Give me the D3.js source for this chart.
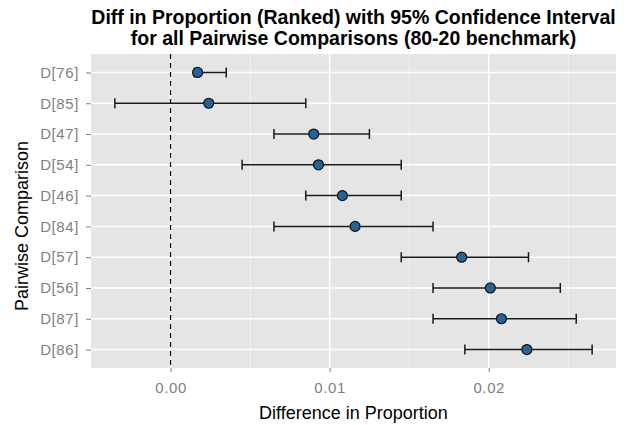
<!DOCTYPE html>
<html>
<head>
<meta charset="utf-8">
<script src="https://cdn.jsdelivr.net/npm/d3@7"></script>
<style>
  body { margin: 0; background: #fff; overflow: hidden; }
  text { font-family: "Liberation Sans", Arial, sans-serif; }
</style>
</head>
<body>
<script>
// comparisons, top to bottom
var labels = ['D[76]', 'D[85]', 'D[47]', 'D[54]', 'D[46]', 'D[84]', 'D[57]', 'D[56]', 'D[87]', 'D[86]'];
var diffs  = [0.0017, 0.0024, 0.0090, 0.0093, 0.0108, 0.0116, 0.0183, 0.0201, 0.0208, 0.0224];
var lower  = [0.0015, -0.0035, 0.0065, 0.0045, 0.0085, 0.0065, 0.0145, 0.0165, 0.0165, 0.0185];
var upper  = [0.0035, 0.0085, 0.0125, 0.0145, 0.0145, 0.0165, 0.0225, 0.0245, 0.0255, 0.0265];
var xTicks = [0, 0.01, 0.02];
var xMinor = [-0.005, 0.005, 0.015, 0.025];

var W = 631, H = 425;
var pLeft = 91, pRight = 616, pTop = 54, pBottom = 368;

var svg = d3.select('body').append('svg')
    .attr('width', W)
    .attr('height', H)
    .style('display', 'block');

var lo = d3.min(lower), hi = d3.max(upper), pad = (hi - lo) * 0.05;
var x = d3.scaleLinear()
    .domain([lo - pad, hi + pad])
    .range([pLeft, pRight]);

var y = d3.scalePoint()
    .domain(labels)
    .range([pTop, pBottom])
    .padding(0.6);

// panel
svg.append('rect')
    .attr('x', pLeft).attr('y', pTop)
    .attr('width', pRight - pLeft).attr('height', pBottom - pTop)
    .attr('fill', '#e5e5e5');

var grid = svg.append('g');
grid.selectAll('.minor').data(xMinor.filter(function (d) { return x(d) > pLeft + 1; }))
    .enter().append('line')
    .attr('x1', function (d) { return x(d); }).attr('x2', function (d) { return x(d); })
    .attr('y1', pTop).attr('y2', pBottom)
    .attr('stroke', '#f2f2f2').attr('stroke-width', 1);
grid.selectAll('.majx').data(xTicks)
    .enter().append('line')
    .attr('x1', function (d) { return x(d); }).attr('x2', function (d) { return x(d); })
    .attr('y1', pTop).attr('y2', pBottom)
    .attr('stroke', '#fff').attr('stroke-width', 1.5);
grid.selectAll('.majy').data(labels)
    .enter().append('line')
    .attr('x1', pLeft).attr('x2', pRight)
    .attr('y1', function (d) { return y(d); }).attr('y2', function (d) { return y(d); })
    .attr('stroke', '#fff').attr('stroke-width', 1.5);

// reference line at zero
svg.append('line')
    .attr('x1', x(0)).attr('x2', x(0))
    .attr('y1', pTop).attr('y2', pBottom)
    .attr('stroke', '#000').attr('stroke-width', 1.2)
    .attr('stroke-dasharray', '5,4');

// axes
var xAxis = svg.append('g')
    .attr('transform', 'translate(0,' + pBottom + ')')
    .call(d3.axisBottom(x).tickValues(xTicks).tickFormat(d3.format('.2f')).tickSize(4).tickPadding(10));
var yAxis = svg.append('g')
    .attr('transform', 'translate(' + pLeft + ',0)')
    .call(d3.axisLeft(y).tickSize(5).tickPadding(7));
[xAxis, yAxis].forEach(function (a) {
    a.select('.domain').remove();
    a.selectAll('line').attr('stroke', '#7f7f7f');
    a.selectAll('text').attr('fill', '#7f7f7f').style('font-size', '15px')
        .style('letter-spacing', '0.6px')
        .style('font-family', '"Liberation Sans", Arial, sans-serif');
});

// error bars
var rows = labels.map(function (l, i) {
    return { label: l, diff: diffs[i], lo: lower[i], hi: upper[i] };
});
var g = svg.append('g');
g.selectAll('.bar').data(rows).enter().append('line')
    .attr('x1', function (d) { return x(d.lo); }).attr('x2', function (d) { return x(d.hi); })
    .attr('y1', function (d) { return y(d.label); }).attr('y2', function (d) { return y(d.label); })
    .attr('stroke', '#1a1a1a').attr('stroke-width', 1.5);
['lo', 'hi'].forEach(function (k) {
    g.selectAll('.cap' + k).data(rows).enter().append('line')
        .attr('x1', function (d) { return x(d[k]); }).attr('x2', function (d) { return x(d[k]); })
        .attr('y1', function (d) { return y(d.label) - 5; }).attr('y2', function (d) { return y(d.label) + 5; })
        .attr('stroke', '#1a1a1a').attr('stroke-width', 1.5);
});
g.selectAll('circle').data(rows).enter().append('circle')
    .attr('cx', function (d) { return x(d.diff); })
    .attr('cy', function (d) { return y(d.label); })
    .attr('r', 5)
    .attr('fill', '#24649b')
    .attr('stroke', '#111').attr('stroke-width', 1.2);

// titles
var cx = (pLeft + pRight) / 2;
svg.append('text')
    .attr('x', cx).attr('y', 24)
    .attr('text-anchor', 'middle')
    .style('font-size', '19.5px').style('font-weight', 'bold')
    .text('Diff in Proportion (Ranked) with 95% Confidence Interval');
svg.append('text')
    .attr('x', cx).attr('y', 45)
    .attr('text-anchor', 'middle')
    .style('font-size', '19.5px').style('font-weight', 'bold')
    .text('for all Pairwise Comparisons (80-20 benchmark)');

svg.append('text')
    .attr('x', cx).attr('y', 419)
    .attr('text-anchor', 'middle')
    .style('font-size', '18px')
    .text('Difference in Proportion');

svg.append('text')
    .attr('transform', 'translate(28,226) rotate(-90)')
    .attr('text-anchor', 'middle')
    .style('font-size', '18px')
    .text('Pairwise Comparison');
</script>
</body>
</html>
